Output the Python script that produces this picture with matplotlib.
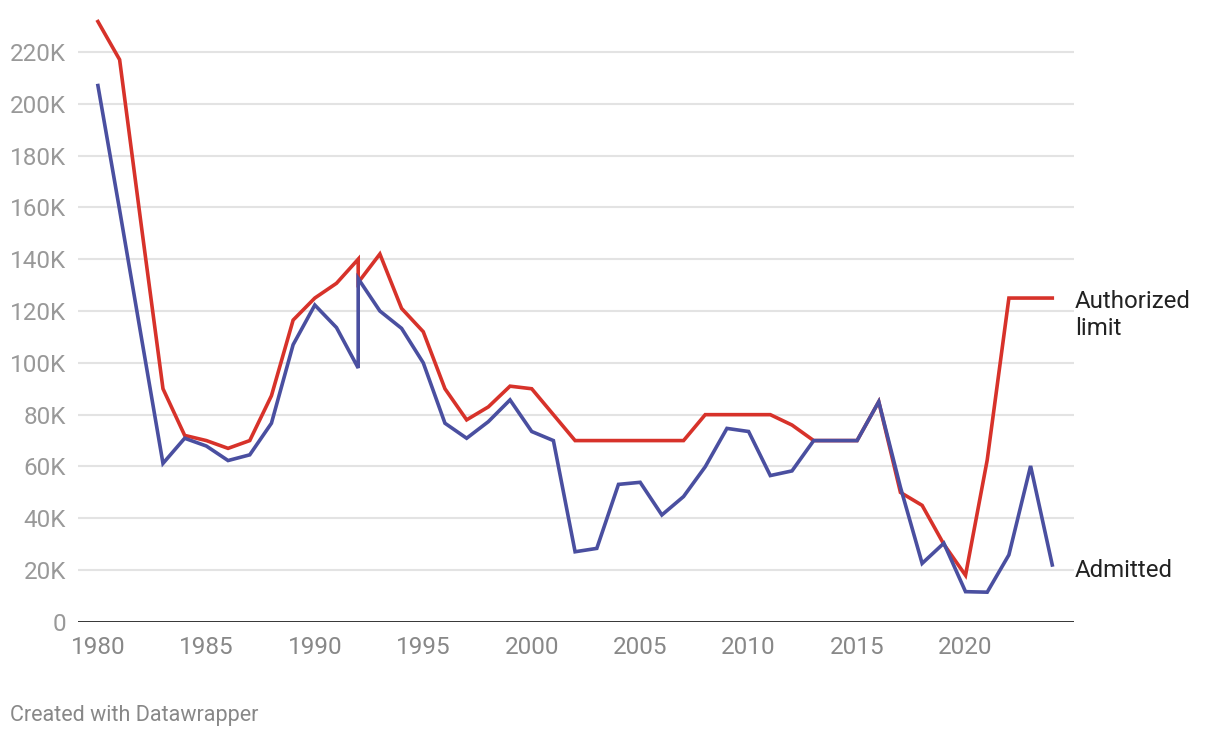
import matplotlib.pyplot as plt

plt.rcParams['font.family'] = ['Roboto', 'DejaVu Sans']

# fiscal years; 1992 appears twice (transition period)
years = [1980, 1981, 1982, 1983, 1984, 1985, 1986, 1987, 1988, 1989, 1990, 1991,
         1992, 1992, 1993, 1994, 1995, 1996, 1997, 1998, 1999, 2000, 2001, 2002,
         2003, 2004, 2005, 2006, 2007, 2008, 2009, 2010, 2011, 2012, 2013, 2014,
         2015, 2016, 2017, 2018, 2019, 2020, 2021, 2022, 2023, 2024]

authorized = [231.7, 217, 153, 90, 72, 70, 67, 70, 87.3, 116.5, 125, 130.7,
              140, 131, 142, 121, 112, 90, 78, 83, 91, 90, 80, 70,
              70, 70, 70, 70, 70, 80, 80, 80, 80, 76, 70, 70,
              70, 85, 50, 45, 30, 18, 62.5, 125, 125, 125]

admitted = [207, 159, 110, 61.2, 70.9, 67.9, 62.3, 64.5, 76.7, 107, 122.3, 113.6,
            98, 132.5, 120, 113.3, 100, 76.7, 70.9, 77.3, 85.7, 73.5, 70, 27.1,
            28.4, 53.1, 53.9, 41.3, 48.4, 59.9, 74.7, 73.5, 56.5, 58.3, 70, 70,
            70, 85, 52, 22.6, 30.4, 11.7, 11.5, 25.9, 60.2, 22]

y_ticks = [0, 20, 40, 60, 80, 100, 120, 140, 160, 180, 200, 220]
y_labels = ['0'] + [f'{v}K' for v in y_ticks[1:]]
x_ticks = [1980, 1985, 1990, 1995, 2000, 2005, 2010, 2015, 2020]

red = '#d7322a'
blue = '#4a4fa0'

fig = plt.figure(figsize=(12.2, 7.38), dpi=100)
ax = fig.add_axes([0.0639, 0.1572, 0.8164, 0.8252])

for v in y_ticks[1:]:
    ax.axhline(v, color='#e3e3e3', lw=1.5, zorder=1)
ax.axhline(0, color='#222222', lw=2, zorder=4)

ax.plot(years, authorized, color=red, lw=2.6, zorder=3, solid_joinstyle='miter')
ax.plot(years, admitted, color=blue, lw=2.6, zorder=3, solid_joinstyle='miter')

ax.set_xlim(1979.08, 2025.0)
ax.set_ylim(0, 235)
ax.set_yticks(y_ticks)
ax.set_yticklabels(y_labels)
ax.set_xticks(x_ticks)
ax.tick_params(axis='y', length=0, pad=8.5, labelsize=17.5, labelcolor='#999999')
ax.tick_params(axis='x', length=0, pad=10, labelsize=17.5, labelcolor='#888888')
for s in ax.spines.values():
    s.set_visible(False)

ax.text(2025.05, 118.5, 'Authorized\nlimit', fontsize=17.3, color='#222222',
        va='center', ha='left', linespacing=1.2, clip_on=False)
ax.text(2025.05, 20, 'Admitted', fontsize=17.3, color='#222222',
        va='center', ha='left', clip_on=False)

fig.text(10 / 1220, 1 - 715 / 738, 'Created with Datawrapper', fontsize=15.5,
         color='#888888', va='center', ha='left')

plt.savefig('out.png', dpi=100)
